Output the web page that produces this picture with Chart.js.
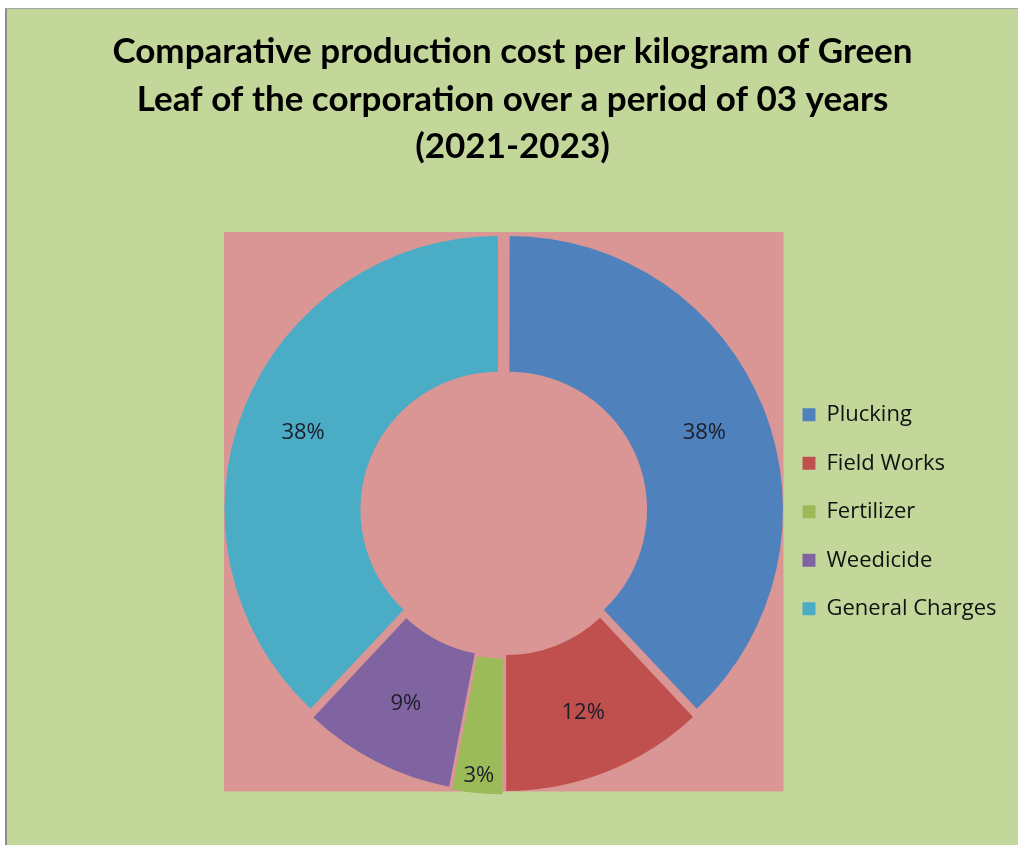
<!DOCTYPE html>
<html>
<head>
<meta charset="utf-8">
<script src="https://cdn.jsdelivr.net/npm/chart.js@4"></script>
<style>
  html, body { margin: 0; padding: 0; background: #ffffff; }
  #frame {
    position: absolute; left: 5px; top: 8px; width: 1011px; height: 836px;
    border-left: 2px solid #8c8c8c; border-top: 1px solid #a6a6a6;
    background: #c4d79b;
  }
  canvas { display: block; }
</style>
</head>
<body>
<div id="frame"><canvas id="costChart" width="1011" height="836"></canvas></div>
<script>
const titleLines = [
  'Comparative production cost per kilogram of Green',
  'Leaf of the corporation over a period of 03 years',
  '(2021-2023)'
];
const categories = ['Plucking', 'Field Works', 'Fertilizer', 'Weedicide', 'General Charges'];
const shares = [38, 12, 3, 9, 38];
const sliceColors = ['#4f81bd', '#c0504d', '#9bbb59', '#8064a2', '#4bacc6'];

const plotPink = '#da9694';
const labelFont = '"Open Sans", sans-serif';
const legendPad = 26.5;

// pink plot square behind the ring, title centred on the whole chart,
// legend pulled in next to the plot square (like Excel does)
const plotArea = {
  id: 'plotArea',
  afterLayout(chart) {
    const ca = chart.chartArea;
    chart.titleBlock.left = 0;
    chart.titleBlock.right = chart.width;
    const half = Math.min(ca.right - ca.left, ca.bottom - ca.top) / 2 - 4;
    const pinkRight = (ca.left + ca.right) / 2 + half;
    const lg = chart.legend;
    const dx = pinkRight + 19 - legendPad - lg.left;
    lg.left += dx;
    lg.right += dx;
  },
  beforeDatasetsDraw(chart) {
    const arc = chart.getDatasetMeta(0).data[0];
    if (!arc) return;
    const half = arc.outerRadius + 8;
    const ctx = chart.ctx;
    ctx.save();
    ctx.fillStyle = plotPink;
    ctx.fillRect(arc.x - half, arc.y - half, half * 2, half * 2);
    ctx.restore();
  }
};

// percentage labels inside the slices
const sliceLabels = {
  id: 'sliceLabels',
  afterDatasetsDraw(chart) {
    const ctx = chart.ctx;
    const meta = chart.getDatasetMeta(0);
    const total = shares.reduce((a, b) => a + b, 0);
    ctx.save();
    ctx.font = '22px ' + labelFont;
    ctx.fillStyle = '#1d1d2b';
    ctx.textAlign = 'center';
    ctx.textBaseline = 'middle';
    meta.data.forEach((arc, i) => {
      let pos = arc.tooltipPosition();
      if (shares[i] / total < 0.05) {
        // small slice: label sits near the outer rim
        const mid = (arc.startAngle + arc.endAngle) / 2;
        const r = arc.outerRadius - 7;
        pos = { x: arc.x + Math.cos(mid) * r, y: arc.y + Math.sin(mid) * r };
      }
      ctx.fillText(Math.round(shares[i] / total * 100) + '%', pos.x, pos.y);
    });
    ctx.restore();
  }
};

new Chart(document.getElementById('costChart'), {
  type: 'doughnut',
  data: {
    labels: categories,
    datasets: [{
      data: shares,
      backgroundColor: sliceColors,
      borderWidth: 0,
      offset: 24
    }]
  },
  options: {
    responsive: false,
    animation: false,
    cutout: '50%',
    layout: { padding: { left: 213, right: 0, top: 0, bottom: 49 } },
    plugins: {
      title: {
        display: true,
        text: titleLines,
        color: '#000000',
        font: { family: 'Lato, sans-serif', size: 35, weight: 'bold', lineHeight: 47.5 / 35 },
        padding: { top: 19, bottom: 57 }
      },
      legend: {
        position: 'right',
        fullSize: false,
        labels: {
          boxWidth: 13,
          boxHeight: 13,
          padding: legendPad,
          color: '#111111',
          font: { family: labelFont, size: 22 }
        }
      },
      tooltip: { enabled: false }
    }
  },
  plugins: [plotArea, sliceLabels]
});
</script>
</body>
</html>
